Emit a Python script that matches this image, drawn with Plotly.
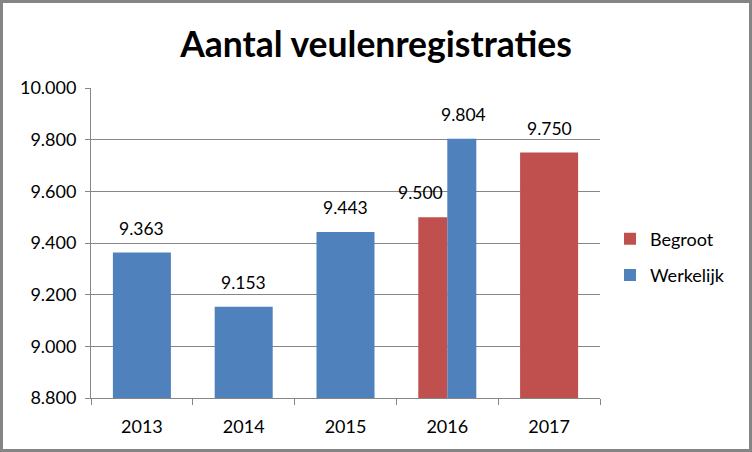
import plotly.graph_objects as go

years = ["2013", "2014", "2015", "2016", "2017"]
werkelijk_years = ["2013", "2014", "2015", "2016"]
werkelijk = [9363, 9153, 9443, 9804]
begroot_years = ["2016", "2017"]
begroot = [9500, 9750]
tick_vals = [8800, 9000, 9200, 9400, 9600, 9800, 10000]

W, H = 752, 452
ml, mr, mt, mb = 91, 152, 88, 54
pw, ph = W - ml - mr, H - mt - mb

font = "Lato, 'Liberation Sans', sans-serif"
blue = "#4F81BD"
red = "#C0504D"
grey = "#868686"


def fmt(v):
    return f"{v:,}".replace(",", ".")


fig = go.Figure()
fig.add_trace(go.Bar(
    name="Begroot", x=begroot_years, y=begroot, legendrank=1, legendgroup="b",
    width=[0.285, 0.57], offset=[-0.285, -0.285],
    marker=dict(color=red, line=dict(width=0)),
))
fig.add_trace(go.Bar(
    name="Werkelijk", x=werkelijk_years, y=werkelijk, legendrank=2, legendgroup="w",
    width=[0.57, 0.57, 0.57, 0.285], offset=[-0.285, -0.285, -0.285, 0],
    marker=dict(color=blue, line=dict(width=0)),
))

annotations = []
for yr, v in zip(werkelijk_years, werkelijk):
    annotations.append(dict(x=years.index(yr), y=v, text=fmt(v), showarrow=False,
                            yanchor="bottom", yshift=12,
                            xshift=16 if yr in begroot_years else 0))
for yr, v in zip(begroot_years, begroot):
    annotations.append(dict(x=years.index(yr), y=v, text=fmt(v), showarrow=False,
                            yanchor="bottom", yshift=12,
                            xshift=-27 if yr in werkelijk_years else 0))
for a in annotations:
    a["font"] = dict(size=17.5, family=font, color="#000000")

fig.update_layout(
    width=W, height=H,
    margin=dict(l=ml, r=mr, t=mt, b=mb, autoexpand=False),
    paper_bgcolor="white", plot_bgcolor="white",
    barmode="overlay",
    separators=",.",
    font=dict(family=font, size=17, color="#000000"),
    title=dict(text="<b>Aantal veulenregistraties</b>", x=0.5, xanchor="center",
               xref="container", y=1 - 45 / H, yanchor="middle", yref="container",
               font=dict(size=35.5, family=font, color="#000000")),
    xaxis=dict(type="category", categoryorder="array", categoryarray=years,
               range=[-0.5, len(years) - 0.5],
               showgrid=False, showline=True, linecolor=grey, linewidth=1,
               ticks="outside", tickson="boundaries", ticklen=6, tickcolor=grey,
               ticklabelstandoff=12,
               tickfont=dict(size=18, family=font)),
    yaxis=dict(range=[8800, 10000], tickvals=tick_vals, tickformat=",.0f",
               showgrid=True, gridcolor=grey, gridwidth=1, zeroline=False,
               showline=True, linecolor=grey, linewidth=1,
               ticks="outside", ticklen=5, tickcolor=grey,
               ticklabelstandoff=5,
               tickfont=dict(size=18, family=font)),
    legend=dict(x=(610 - ml) / pw, xanchor="left", y=(398 - 257) / ph, yanchor="middle",
                font=dict(size=18, family=font), itemwidth=30,
                traceorder="grouped", tracegroupgap=10, bgcolor="rgba(0,0,0,0)"),
    annotations=annotations,
    showlegend=True,
    shapes=[dict(type="rect", xref="paper", yref="paper",
                 x0=(1.5 - ml) / pw, x1=(W - 1.5 - ml) / pw,
                 y0=-(H - 1.5 - mt - ph) / ph, y1=(mt + ph - 1.5) / ph,
                 line=dict(color="#858585", width=3), layer="above")],
)

fig.write_html("out.html", config={"displayModeBar": False},
               post_script="document.body.style.margin='0';document.body.style.overflow='hidden';")
